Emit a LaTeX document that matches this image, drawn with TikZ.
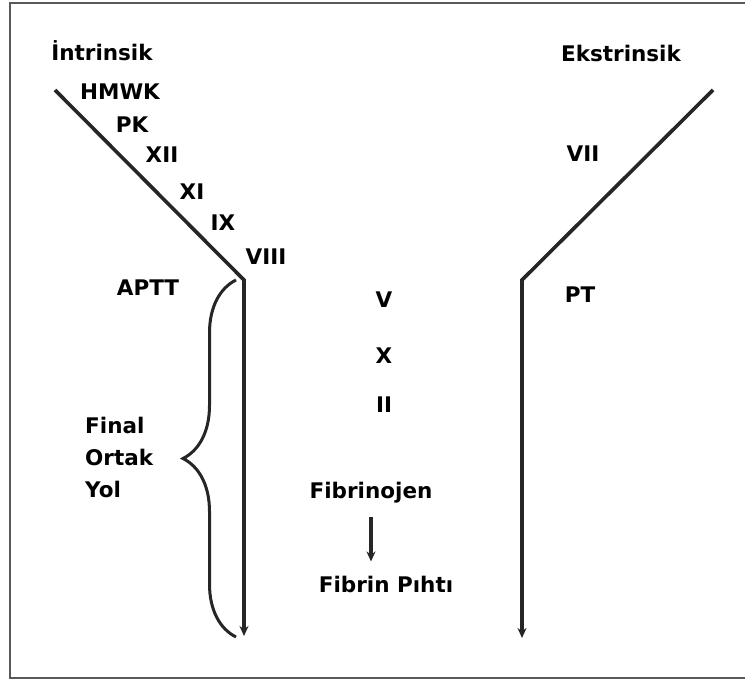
\documentclass[tikz,border=0pt]{standalone}
\usepackage{fontspec}
\setmainfont{DejaVu Sans}
\usetikzlibrary{arrows.meta,decorations.pathreplacing}
\begin{document}
\begin{tikzpicture}[x=1pt,y=-1pt,
  lbl/.style={font=\fontsize{21.5}{25}\selectfont\bfseries, inner sep=0pt, anchor=base, text=black},
  flowline/.style={draw=black!85, line width=3.6pt, line join=miter},
  tipped/.style={-{Stealth[length=10pt,width=9pt]}}]
\useasboundingbox (0,0) rectangle (745,682);
% frame
\draw[gray!70!black, line width=2.6pt] (746,3) -- (10,3) -- (10,678) -- (746,678);
% labels
\node[lbl] (intr) at (102,61) {İntrinsik};
\node[lbl] (ekstr) at (621,62) {Ekstrinsik};
\node[lbl] (hmwk) at (120,100) {HMWK};
\node[lbl] (pk) at (132,133) {PK};
\node[lbl] (xii) at (162,163) {XII};
\node[lbl] (xi) at (192,200) {XI};
\node[lbl] (ix) at (223,230) {IX};
\node[lbl] (viii) at (266,265) {VIII};
\node[lbl] (aptt) at (148,295) {APTT};
\node[lbl] (vii) at (583,162) {VII};
\node[lbl] (pt) at (580,302) {PT};
\node[lbl] (v) at (384,307) {V};
\node[lbl] (x) at (384,363) {X};
\node[lbl] (ii) at (384,412) {II};
\node[lbl] (fgen) at (371,498) {Fibrinojen};
\node[lbl] (fclot) at (386,592) {Fibrin Pıhtı};
\node[lbl, anchor=base west] (fin) at (85,433) {Final};
\node[lbl, anchor=base west] (ort) at (85,465) {Ortak};
\node[lbl, anchor=base west] (yol) at (85,497) {Yol};
% pathways
\coordinate (i0) at (55,90);
\coordinate (i1) at (244,280);
\coordinate (i2) at (244,636);
\coordinate (e0) at (713,90);
\coordinate (e1) at (522,280);
\coordinate (e2) at (522,638);
\draw[flowline, tipped] (i0) -- (i1) -- (i2);
\draw[flowline, tipped] (e0) -- (e1) -- (e2);
% fibrinogen -> fibrin
\draw[flowline, tipped, shorten <=14pt, shorten >=14pt] (fgen.south) -- (fclot.north -| fgen.south);
% brace
\coordinate (b0) at (236,637);
\coordinate (b1) at (236,280);
\draw[draw=black!85, line width=3pt, decorate, decoration={brace, amplitude=53pt, aspect=0.5}] (b0) -- (b1);
\end{tikzpicture}
\end{document}
